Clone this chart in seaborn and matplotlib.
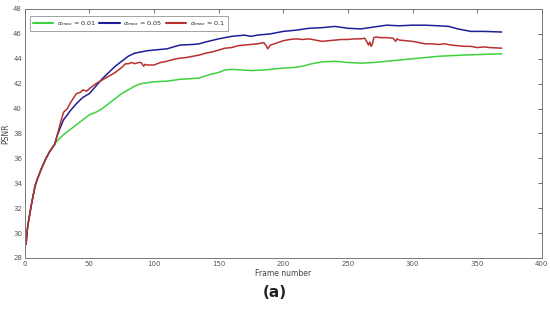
import pandas as pd
import seaborn as sns
import matplotlib.pyplot as plt

# shared start (all three curves coincide up to frame ~23)
start_frames = [1, 2, 3, 5, 8, 10, 13, 16, 19, 23]
start_psnr = [29.1, 30.3, 31.0, 32.2, 33.8, 34.4, 35.2, 35.9, 36.5, 37.1]

green_frames = [25, 30, 35, 40, 45, 50, 55, 60, 65, 70, 75, 80, 85, 90, 100, 110, 120, 128, 135, 142, 150, 155, 160, 168,
                175, 185, 195, 200, 208, 215, 222, 230, 240, 250, 260, 270, 280, 290, 300, 310, 320, 330, 340, 355, 369]
green_psnr = [37.4, 37.9, 38.3, 38.7, 39.1, 39.5, 39.7, 40.0, 40.4, 40.8, 41.2, 41.5, 41.8, 42.0, 42.15, 42.2, 42.35, 42.4, 42.45, 42.7, 42.9, 43.1, 43.15, 43.1,
              43.05, 43.1, 43.2, 43.25, 43.3, 43.4, 43.6, 43.75, 43.8, 43.7, 43.65, 43.7, 43.8, 43.9, 44.0, 44.1, 44.2, 44.25, 44.3, 44.35, 44.4]

blue_frames = [25, 28, 30, 33, 35, 40, 45, 50, 55, 60, 65, 70, 75, 80, 85, 90, 95, 100, 110, 115, 120, 130, 135, 140, 150, 160,
               170, 175, 180, 190, 200, 210, 220, 230, 240, 250, 260, 270, 280, 290, 300, 310, 320, 328, 335, 345, 355, 369]
blue_psnr = [37.8, 38.6, 39.1, 39.5, 39.8, 40.4, 40.9, 41.2, 41.8, 42.4, 42.9, 43.4, 43.8, 44.2, 44.45, 44.55, 44.65, 44.7, 44.8, 44.95, 45.1, 45.15, 45.2, 45.35, 45.6, 45.8,
             45.9, 45.8, 45.9, 46.0, 46.2, 46.3, 46.45, 46.5, 46.6, 46.45, 46.4, 46.55, 46.7, 46.65, 46.7, 46.7, 46.65, 46.6, 46.4, 46.2, 46.2, 46.15]

red_frames = [25, 28, 30, 33, 35, 38, 40, 43, 45, 48, 50, 55, 60, 65, 70, 75, 78, 80, 83, 85, 88, 90, 92, 93, 95, 100, 105, 110,
              115, 120, 125, 130, 135, 140, 145, 150, 155, 160, 165, 170, 175, 180, 185, 187, 188, 190, 193, 200, 205, 210, 215,
              220, 225, 230, 235, 240, 245, 250, 255, 260, 263, 265, 266, 267, 268, 269, 270, 272, 275, 280, 285, 287, 288, 290,
              295, 300, 305, 310, 315, 320, 325, 330, 335, 340, 345, 350, 355, 360, 369]
red_psnr = [37.8, 39.0, 39.7, 40.0, 40.4, 40.9, 41.2, 41.3, 41.5, 41.4, 41.6, 42.0, 42.3, 42.6, 42.9, 43.3, 43.6, 43.6, 43.7, 43.6, 43.7, 43.7, 43.4, 43.55, 43.5, 43.5, 43.7, 43.8,
            43.95, 44.05, 44.1, 44.2, 44.3, 44.45, 44.55, 44.7, 44.85, 44.9, 45.05, 45.1, 45.15, 45.2, 45.3, 45.0, 44.8, 45.1, 45.2, 45.45, 45.55, 45.6, 45.55,
            45.6, 45.5, 45.4, 45.45, 45.5, 45.55, 45.55, 45.6, 45.6, 45.65, 45.3, 45.1, 45.35, 45.0, 45.2, 45.7, 45.75, 45.7, 45.7, 45.65, 45.4, 45.6, 45.5,
            45.45, 45.4, 45.3, 45.2, 45.2, 45.15, 45.2, 45.1, 45.05, 45.0, 45.0, 44.9, 44.95, 44.9, 44.85]

labels = [r'$\alpha_{max}$ = 0.01', r'$\alpha_{max}$ = 0.05', r'$\alpha_{max}$ = 0.1']
colors = ['#3fd23f', '#1e1e9a', '#b83030']

rows = []
for lab, fr, ps in zip(labels, [green_frames, blue_frames, red_frames], [green_psnr, blue_psnr, red_psnr]):
    for f, p in zip(start_frames + fr, start_psnr + ps):
        rows.append({'Frame number': f, 'PSNR': p, 'alpha': lab})
df = pd.DataFrame(rows)

sns.set_style("white")
plt.rcParams['font.family'] = ['DejaVu Sans']
plt.rcParams['mathtext.fontset'] = 'dejavusans'

fig = plt.figure(figsize=(5.5, 3.1), dpi=100)
ax = fig.add_axes([0.045, 0.168, 0.94, 0.803])
sns.lineplot(data=df, x='Frame number', y='PSNR', hue='alpha', palette=dict(zip(labels, colors)),
             hue_order=labels, linewidth=1.1, ax=ax, estimator=None, sort=True)

ax.set_xlim(0, 400)
ax.set_ylim(28, 48)
ax.set_xticks(range(0, 401, 50))
ax.set_yticks(range(28, 49, 2))
ax.tick_params(direction='in', length=3, width=0.6, labelsize=5, colors='#555555',
               top=True, right=True, pad=2)
for s in ax.spines.values():
    s.set_color('#777777')
    s.set_linewidth(0.7)
ax.set_xlabel('Frame number', fontsize=5.5, color='#444444', labelpad=2)
ax.set_ylabel('PSNR', fontsize=5.5, color='#444444', labelpad=2)

leg = ax.legend(loc='upper left', ncol=3, fontsize=4.6, frameon=True, fancybox=False,
                edgecolor='#777777', handlelength=3.2, columnspacing=0.6, handletextpad=0.5,
                borderpad=0.45, bbox_to_anchor=(0.004, 0.985))
leg.get_frame().set_linewidth(0.6)
for line in leg.get_lines():
    line.set_linewidth(1.5)

fig.text(0.5, 0.058, '(a)', ha='center', va='center', fontsize=11, fontweight='bold', color='#222222')

fig.savefig('out.png', dpi=100)
